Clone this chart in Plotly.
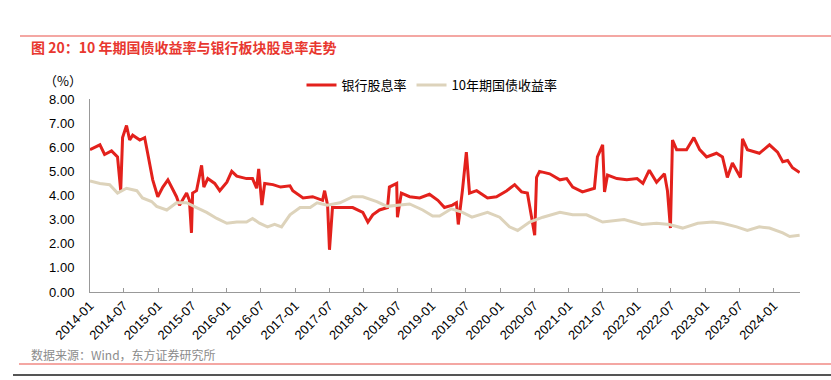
import plotly.graph_objects as go

bank_dates = ["2014-01-01","2014-02-23","2014-03-20","2014-04-26","2014-05-28","2014-06-14","2014-06-24",
"2014-07-15","2014-08-01","2014-08-17","2014-09-24","2014-10-20","2014-11-05","2014-12-02","2014-12-29",
"2015-01-25","2015-02-21","2015-03-12","2015-04-08","2015-04-24","2015-06-01","2015-06-16","2015-06-27",
"2015-07-03","2015-07-24","2015-08-20","2015-09-01","2015-09-22","2015-10-29","2015-11-25","2016-01-02",
"2016-01-28","2016-02-24","2016-04-16","2016-05-18","2016-06-09","2016-06-20","2016-07-07","2016-07-22",
"2016-09-04","2016-10-15","2016-12-04","2016-12-19","2017-02-12","2017-04-04","2017-05-27","2017-06-07","2017-06-23",
"2017-07-03","2017-07-19","2017-09-12","2017-11-04","2017-12-28","2018-01-24","2018-02-19","2018-03-27",
"2018-05-09","2018-05-19","2018-06-27","2018-07-01","2018-07-22","2018-09-04","2018-10-28","2018-12-19",
"2019-02-02","2019-03-09","2019-04-21","2019-05-12","2019-05-22","2019-06-13","2019-07-04","2019-07-21",
"2019-08-28","2019-10-25","2019-12-12","2020-02-05","2020-03-18","2020-04-24","2020-05-25","2020-06-06",
"2020-07-03","2020-07-13","2020-07-29","2020-09-21","2020-11-15","2020-12-21","2021-01-22","2021-03-15",
"2021-05-18","2021-06-03","2021-07-01","2021-07-11","2021-07-27","2021-09-15","2021-11-07","2022-01-01",
"2022-02-01","2022-03-07","2022-04-15","2022-05-27","2022-06-12","2022-06-28","2022-07-09","2022-07-31",
"2022-09-22","2022-10-31","2022-12-01","2023-01-07","2023-03-01","2023-04-02","2023-04-28","2023-05-25",
"2023-07-07","2023-07-18","2023-08-13","2023-10-16","2023-12-09","2024-01-21","2024-02-18","2024-03-15",
"2024-04-10","2024-05-18"]
bank_yield = [5.9,6.1,5.7,5.85,5.6,4.2,6.4,
6.9,6.3,6.5,6.3,6.4,5.75,4.65,3.95,
4.35,4.65,4.35,3.95,3.6,4.1,3.8,2.45,
4.1,4.2,5.25,4.35,4.7,4.5,4.2,4.55,
5.0,4.8,4.7,4.7,4.3,5.1,3.6,4.5,
4.45,4.35,4.4,4.2,3.9,3.95,3.8,4.2,3.6,
1.75,3.5,3.5,3.5,3.3,2.9,3.2,3.4,
3.5,4.35,4.5,3.1,4.1,3.95,3.9,4.05,
3.8,3.5,3.6,3.7,2.8,4.2,5.8,4.1,
4.2,3.9,3.95,4.2,4.45,4.15,4.1,3.5,
2.35,4.75,5.0,4.9,4.65,4.7,4.35,4.15,
4.3,5.6,6.1,4.15,4.85,4.7,4.65,4.7,
4.5,5.05,4.55,4.9,4.2,2.65,6.3,5.9,
5.9,6.4,5.9,5.6,5.75,5.6,4.75,5.35,
4.75,6.35,5.9,5.75,6.1,5.8,5.4,5.45,
5.15,4.95]

bond_dates = ["2014-01-01","2014-02-23","2014-04-16","2014-05-28","2014-07-15","2014-09-08","2014-10-08",
"2014-11-26","2014-12-23","2015-02-15","2015-04-08","2015-06-01","2015-07-24","2015-09-16","2015-11-09",
"2016-01-02","2016-02-24","2016-04-16","2016-05-18","2016-06-24","2016-08-06","2016-09-13","2016-10-20",
"2016-12-04","2017-01-27","2017-03-22","2017-04-28","2017-06-21","2017-08-28","2017-11-04","2017-12-28",
"2018-03-13","2018-05-06","2018-07-15","2018-09-04","2018-11-13","2019-01-05","2019-02-11","2019-04-15",
"2019-06-13","2019-08-03","2019-10-25","2019-12-29","2020-02-19","2020-04-03","2020-06-06","2020-08-16",
"2020-11-15","2021-01-22","2021-04-06","2021-07-01","2021-10-24","2022-01-27","2022-04-15","2022-06-22",
"2022-09-01","2022-11-21","2023-02-08","2023-04-02","2023-06-17","2023-08-13","2023-10-16","2023-12-09",
"2024-02-18","2024-03-26","2024-05-18"]
bond_yield = [4.6,4.5,4.45,4.1,4.3,4.2,3.9,
3.75,3.55,3.4,3.7,3.7,3.5,3.3,3.05,
2.85,2.9,2.9,3.05,2.85,2.7,2.8,2.7,
3.2,3.5,3.5,3.7,3.6,3.7,3.95,3.95,
3.75,3.55,3.6,3.65,3.4,3.15,3.15,3.45,
3.3,3.1,3.3,3.1,2.7,2.55,2.9,3.1,
3.3,3.2,3.2,2.9,3.0,2.8,2.85,2.8,
2.65,2.85,2.9,2.85,2.7,2.55,2.7,2.65,
2.45,2.3,2.35]

y_ticks = [0, 1, 2, 3, 4, 5, 6, 7, 8]

CJK = "Noto Sans CJK SC, Liberation Sans, sans-serif"
NUM = "Liberation Sans, Arial, sans-serif"

# plot area geometry in pixels (used for paper coordinates of decorations)
W, H = 831, 380
L, R, T, B = 90, 31, 99, 88
pw, ph = W - L - R, H - T - B
def px(x):
    return (x - L) / pw
def py(y):
    return (H - B - y) / ph

fig = go.Figure()
fig.add_trace(go.Scatter(x=bank_dates, y=bank_yield, mode="lines", name="银行股息率",
                         line=dict(color="#E3211C", width=3)))
fig.add_trace(go.Scatter(x=bond_dates, y=bond_yield, mode="lines", name="10年期国债收益率",
                         line=dict(color="#DDD3BB", width=3)))

fig.update_layout(
    width=W, height=H,
    margin=dict(l=L, r=R, t=T, b=B, autoexpand=False),
    paper_bgcolor="white", plot_bgcolor="white",
    showlegend=True,
    legend=dict(orientation="h", x=px(432), xanchor="center", y=py(85), yanchor="middle",
                font=dict(family=CJK, size=13, color="#000"), bgcolor="rgba(0,0,0,0)",
                itemwidth=30, tracegroupgap=0),
    xaxis=dict(type="date", range=["2014-01-01", "2024-05-20"], tick0="2014-01-01", dtick="M6",
               tickformat="%Y-%m", tickangle=-45, ticks="inside", ticklen=4, tickcolor="#999",
               showline=True, linecolor="#999", linewidth=1, showgrid=False, zeroline=False,
               tickfont=dict(family=NUM, size=13, color="#000")),
    yaxis=dict(range=[0, 8], tickvals=y_ticks, tickformat=".2f", ticks="outside", ticklen=12,
               tickcolor="rgba(0,0,0,0)", showline=True,
               linecolor="#999", linewidth=1, showgrid=False, zeroline=False,
               tickfont=dict(family=NUM, size=13, color="#000")),
)

fig.add_annotation(text="<b>图 20：10 年期国债收益率与银行板块股息率走势</b>", xref="paper", yref="paper",
                   x=px(29), y=py(47), xanchor="left", yanchor="middle", showarrow=False,
                   font=dict(family=CJK, size=14, color="#E8372F"))
fig.add_annotation(text="（%）", xref="paper", yref="paper", x=px(63), y=py(80),
                   xanchor="center", yanchor="middle", showarrow=False,
                   font=dict(family=CJK, size=13, color="#000"))
fig.add_annotation(text="数据来源：Wind，东方证券研究所", xref="paper", yref="paper",
                   x=px(29), y=py(354), xanchor="left", yanchor="middle", showarrow=False,
                   font=dict(family=CJK, size=12, color="#8C8C8C"))

fig.add_shape(type="line", xref="paper", yref="paper", x0=px(20), x1=px(831), y0=py(36), y1=py(36),
              line=dict(color="#F08A84", width=1.5))
fig.add_shape(type="line", xref="paper", yref="paper", x0=px(19), x1=px(831), y0=py(364), y1=py(364),
              line=dict(color="#F08A84", width=1.5))
fig.add_shape(type="line", xref="paper", yref="paper", x0=px(13), x1=px(831), y0=py(375), y1=py(375),
              line=dict(color="#555555", width=2))

fig.write_html("out.html", config={"displayModeBar": False},
               post_script="document.body.style.margin='0';")
